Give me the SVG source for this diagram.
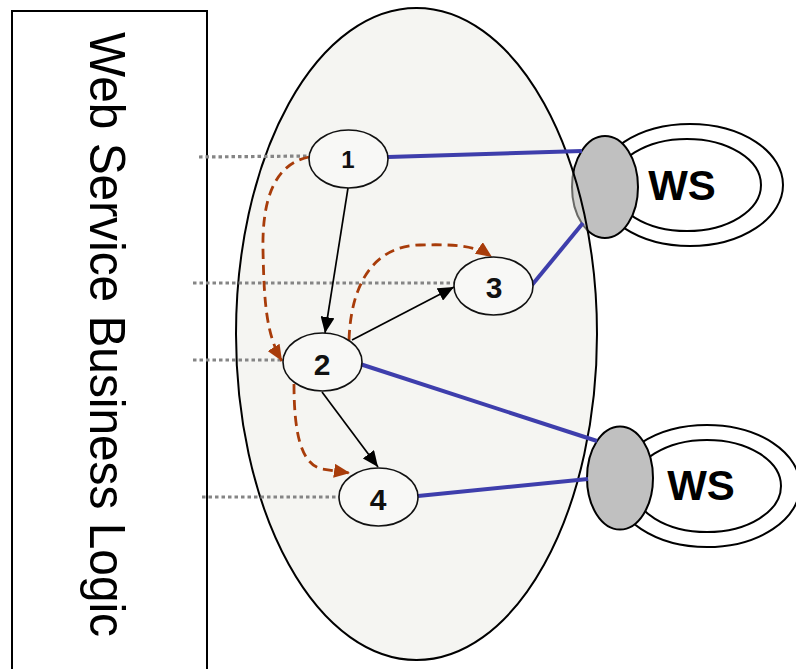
<svg xmlns="http://www.w3.org/2000/svg" width="796" height="669" viewBox="0 0 796 669">
<defs>
<style>
.lbl{font-family:"Liberation Sans",Arial,sans-serif;fill:#000}
.ws{font-family:"Liberation Sans",Arial,sans-serif;font-weight:bold;font-size:42px;text-anchor:middle}
.num{font-family:"Liberation Sans",Arial,sans-serif;font-weight:bold;text-anchor:middle;fill:#111}
.node{fill:#f8f8f6;stroke:#111;stroke-width:1.6}
.ring{fill:#fff;stroke:#000;stroke-width:2}
.port{fill:#c0c0c0;stroke:#000;stroke-width:2}
.blue{stroke:#3e3eac;stroke-width:4;fill:none}
.dot{stroke:#858585;stroke-width:3.2;stroke-dasharray:3.5 3;fill:none}
.flow{stroke:#000;stroke-width:1.7;fill:none;marker-end:url(#ab)}
.ctl{stroke:#a83c0a;stroke-width:2.8;stroke-dasharray:10 6;fill:none;marker-end:url(#ar)}
</style>
<marker id="ab" viewBox="0 0 16 14" refX="16" refY="7" markerWidth="16" markerHeight="14" markerUnits="userSpaceOnUse" orient="auto"><path d="M0,0 L16,7 L0,14 Z" fill="#000"/></marker>
<marker id="ar" viewBox="0 0 16 14" refX="16" refY="7" markerWidth="16" markerHeight="14" markerUnits="userSpaceOnUse" orient="auto"><path d="M0,0 L16,7 L0,14 Z" fill="#a83c0a"/></marker>
</defs>
<rect width="796" height="669" fill="#fff"/>

<g id="logic-box">
<rect x="12" y="11" width="195" height="700" fill="#fff" stroke="#000" stroke-width="2"/>
<text class="lbl" transform="translate(90,32) rotate(90)" font-size="50" textLength="605" lengthAdjust="spacingAndGlyphs">Web Service Business Logic</text>
</g>

<g id="ws-top">
<ellipse class="ring" cx="690" cy="185" rx="93" ry="61"/>
<ellipse class="ring" cx="687" cy="185" rx="74" ry="46"/>
<text class="ws" x="682" y="200">WS</text>
<ellipse class="port" cx="605" cy="187" rx="33" ry="51"/>
</g>

<g id="ws-bottom">
<ellipse class="ring" cx="707" cy="486" rx="93" ry="61"/>
<ellipse class="ring" cx="707" cy="486" rx="74" ry="46"/>
<text class="ws" x="701" y="500">WS</text>
<ellipse class="port" cx="620" cy="478" rx="33" ry="51.5"/>
</g>

<g id="process">
<ellipse cx="416.5" cy="334" rx="180.5" ry="326" fill="#e8e8e2" fill-opacity="0.45" stroke="#000" stroke-width="2"/>
</g>

<g id="connectors">
<line class="blue" x1="388" y1="157" x2="582" y2="151"/>
<line class="blue" x1="532" y1="285" x2="583" y2="223"/>
<line class="blue" x1="360" y1="364" x2="597" y2="441"/>
<line class="blue" x1="418" y1="496" x2="588" y2="479"/>

<line class="dot" x1="199" y1="157" x2="309" y2="156"/>
<line class="dot" x1="193" y1="283" x2="454" y2="283"/>
<line class="dot" x1="193" y1="360" x2="283" y2="360"/>
<line class="dot" x1="202" y1="497" x2="339" y2="497"/>

<line class="flow" x1="348" y1="188" x2="325" y2="333"/>
<line class="flow" x1="352" y1="340" x2="454" y2="287"/>
<line class="flow" x1="322" y1="392" x2="378" y2="467"/>

<path class="ctl" d="M309,157 C274,164 262,200 263,250 C264,300 266,335 282,361"/>
<path class="ctl" d="M349,340 C351,282 375,246 420,245 C458,244 476,246 492,257"/>
<path class="ctl" d="M294,384 C294,430 300,464 322,469 L350,473"/>
</g>

<g id="n1"><ellipse class="node" cx="348.5" cy="159" rx="39.5" ry="29"/><text class="num" x="348" y="168" font-size="24">1</text></g>
<g id="n2"><ellipse class="node" cx="322.5" cy="362" rx="39.5" ry="29"/><text class="num" x="322" y="375" font-size="30">2</text></g>
<g id="n3"><ellipse class="node" cx="493.5" cy="286" rx="39.5" ry="29"/><text class="num" x="494" y="298" font-size="30">3</text></g>
<g id="n4"><ellipse class="node" cx="378.5" cy="497" rx="39.5" ry="29"/><text class="num" x="378" y="510" font-size="30">4</text></g>
</svg>
